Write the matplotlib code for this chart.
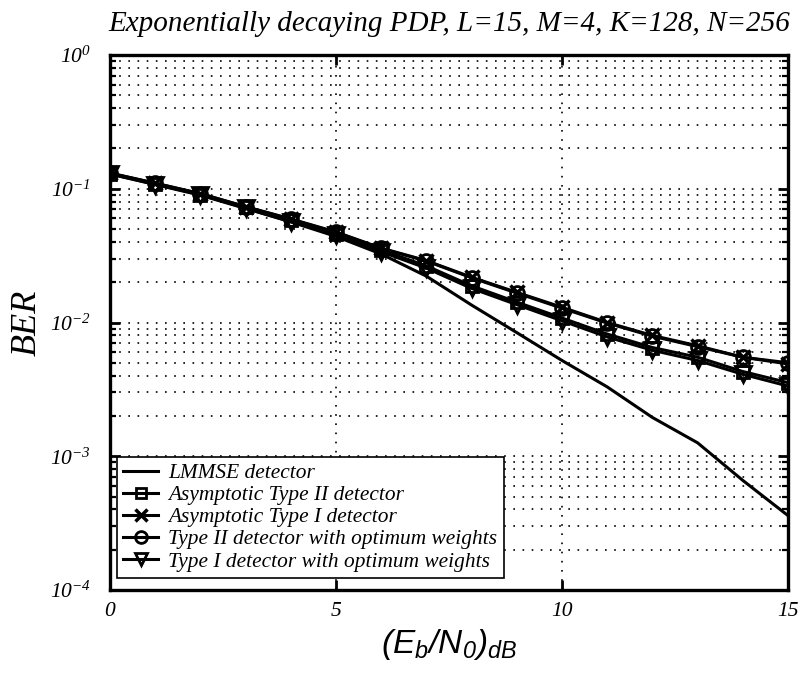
import matplotlib
matplotlib.use("Agg")
import matplotlib.pyplot as plt
from matplotlib.ticker import LogLocator, FixedLocator, NullFormatter

plt.rcParams['mathtext.fontset'] = 'custom'
plt.rcParams['mathtext.rm'] = 'Liberation Serif:italic'
plt.rcParams['mathtext.it'] = 'Liberation Serif:italic'
plt.rcParams['mathtext.sf'] = 'Liberation Sans:italic'
plt.rcParams['font.family'] = ['Liberation Serif', 'DejaVu Sans']

# ---- data ----
snr_db = list(range(16))
lmmse = [0.129, 0.108, 0.0905, 0.0715, 0.0565, 0.0440, 0.0325, 0.0222,
         0.0135, 0.0084, 0.0052, 0.0033, 0.00195, 0.00126, 0.00066, 0.00036]
asym_type2 = [0.130, 0.109, 0.0905, 0.0725, 0.0580, 0.0460, 0.0348, 0.0265,
              0.0188, 0.0142, 0.0108, 0.0082, 0.0065, 0.0055, 0.0043, 0.00355]
asym_type1 = [0.131, 0.110, 0.0920, 0.0735, 0.0595, 0.0475, 0.0360, 0.0290,
              0.0218, 0.0168, 0.0130, 0.0100, 0.0080, 0.0067, 0.0055, 0.0049]
opt_type2 = [0.131, 0.110, 0.0918, 0.0733, 0.0592, 0.0472, 0.0358, 0.0288,
             0.0216, 0.0166, 0.0128, 0.0099, 0.0079, 0.0066, 0.0055, 0.0050]
opt_type1 = [0.129, 0.1075, 0.0895, 0.0712, 0.0568, 0.0452, 0.0338, 0.0255,
             0.0180, 0.0136, 0.0103, 0.0078, 0.0062, 0.0052, 0.0041, 0.00335]
labels = ['LMMSE detector', 'Asymptotic Type II detector', 'Asymptotic Type I detector',
          'Type II detector with optimum weights', 'Type I detector with optimum weights']
title = 'Exponentially decaying PDP, L=15, M=4, K=128, N=256'
xticks = [0, 5, 10, 15]
yticks = [1e-4, 1e-3, 1e-2, 1e-1, 1e0]
ytick_labels = [r'$10^{-4}$', r'$10^{-3}$', r'$10^{-2}$', r'$10^{-1}$', r'$10^{0}$']

fig = plt.figure(figsize=(8.01, 6.77), dpi=100)
ax = fig.add_axes([110/801, 1-590/677, (788-110)/801, (590-55)/677])

lw = 2.2
ms = 10
mew = 2.0
ax.plot(snr_db, lmmse, '-', color='black', lw=lw, label=labels[0])
ax.plot(snr_db, asym_type2, '-', color='black', lw=lw, marker='s', ms=ms*0.85,
        mfc='none', mew=mew, label=labels[1])
ax.plot(snr_db, asym_type1, '-', color='black', lw=lw, marker='x', ms=ms,
        mew=mew+0.5, label=labels[2])
ax.plot(snr_db, opt_type2, '-', color='black', lw=lw, marker='o', ms=ms,
        mfc='none', mew=mew, label=labels[3])
ax.plot(snr_db, opt_type1, '-', color='black', lw=lw, marker='v', ms=ms+1,
        mfc='none', mew=mew, label=labels[4])

ax.set_yscale('log')
ax.set_xlim(0, 15)
ax.set_ylim(1e-4, 1e0)
ax.set_xticks(xticks)
ax.set_xticklabels([str(t) for t in xticks], fontstyle='italic')
ax.yaxis.set_major_locator(FixedLocator(yticks))
ax.set_yticklabels(ytick_labels)
ax.yaxis.set_minor_locator(LogLocator(base=10, subs=range(2, 10), numticks=20))
ax.yaxis.set_minor_formatter(NullFormatter())

for s in ax.spines.values():
    s.set_linewidth(2.4)

ax.tick_params(which='both', direction='in', top=True, right=True,
               labelsize=15.5)
ax.tick_params(which='major', length=7, width=2.0)
ax.tick_params(which='minor', length=4, width=1.6)
ax.tick_params(axis='x', pad=9)
ax.tick_params(axis='y', pad=14)

grid_style = dict(color='black', linestyle=(0, (1, 4.5)), linewidth=1.2)
ax.grid(True, which='major', axis='both', **grid_style)
ax.grid(True, which='minor', axis='y', **grid_style)
ax.set_axisbelow(True)

ax.set_title(title, fontsize=21, fontstyle='italic', pad=17)
ax.set_ylabel('BER', fontsize=26, fontstyle='italic', labelpad=4)
ax.set_xlabel(r'$\mathsf{(E_b/N_0)_{dB}}$', fontsize=24, labelpad=4)

leg = ax.legend(loc='lower left', bbox_to_anchor=(0.0103, 0.0224), borderaxespad=0,
                prop={'family': 'Liberation Serif', 'style': 'italic', 'size': 15.4},
                fancybox=False, framealpha=1, edgecolor='black',
                handlelength=1.6, handletextpad=0.5, borderpad=0.3,
                labelspacing=0.1, markerscale=0.85)
leg.get_frame().set_linewidth(1.2)

fig.savefig('out.png', dpi=100)
